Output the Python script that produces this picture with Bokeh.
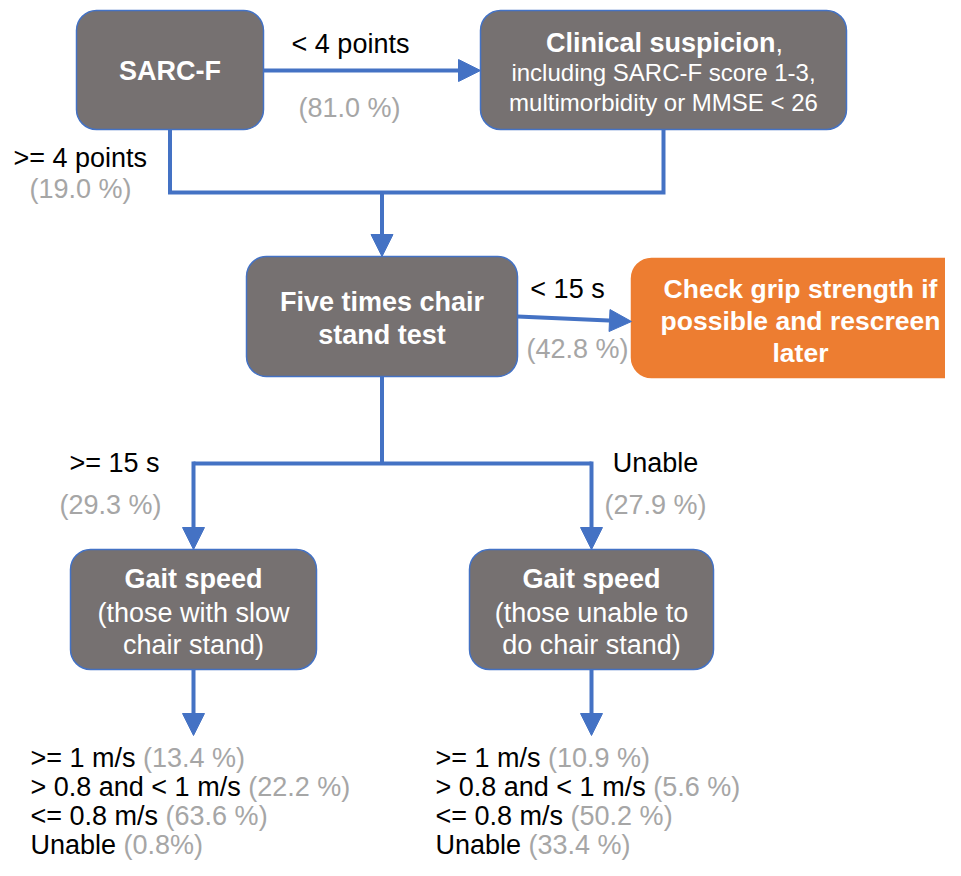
from bokeh.plotting import figure
from bokeh.models import Range1d, Arrow, NormalHead, ColumnDataSource
from bokeh.embed import file_html
from bokeh.resources import INLINE
from bokeh.core.properties import value

# ---------------- data ----------------
sarcf_split = ["< 4 points", ">= 4 points"]
sarcf_pct = [81.0, 19.0]
chair_split = ["< 15 s", ">= 15 s", "Unable"]
chair_pct = [42.8, 29.3, 27.9]
gait_cats = [">= 1 m/s", "> 0.8 and < 1 m/s", "<= 0.8 m/s", "Unable"]
gait_slow_pct = [13.4, 22.2, 63.6, 0.8]
gait_unable_pct = [10.9, 5.6, 50.2, 33.4]

# ---------------- style ----------------
BLUE = "#4472C4"
GREY_BOX = "#767171"
ORANGE = "#ED7D31"
PCT = "#A6A6A6"
FONT = value("Liberation Sans")
FS = "27px"

def pct(v, space=True):
    return f"({v:.1f} %)" if space else f"({v:.1f}%)"

# Arial / Liberation Sans advance widths (1/1000 em)
AW = {' ': 278, '%': 889, '(': 333, ')': 333, ',': 278, '-': 333, '.': 278, '/': 278,
      '<': 584, '=': 584, '>': 584, 'U': 722, 'a': 556, 'b': 556, 'd': 556, 'e': 556,
      'l': 222, 'm': 833, 'n': 556, 's': 500}
def text_w(s, px=27):
    return sum(AW.get(c, 556) for c in s) / 1000 * px

W, H = 945, 860
p = figure(width=W, height=H, x_range=Range1d(0, W), y_range=Range1d(H, 0),
           output_backend="svg", toolbar_location=None, min_border=0,
           x_axis_type=None, y_axis_type=None)
p.grid.visible = False
p.outline_line_color = None

# ---------------- nodes (layout) ----------------
nodes = {
    "sarcf":    dict(l=76,  r=263, t=10,  b=129, fill=GREY_BOX),
    "clinical": dict(l=480, r=846, t=10,  b=129, fill=GREY_BOX),
    "chair":    dict(l=246, r=517, t=256, b=376, fill=GREY_BOX),
    "grip":     dict(l=631, r=975, t=258, b=377, fill=ORANGE),
    "gait1":    dict(l=70,  r=316, t=549, b=669, fill=GREY_BOX),
    "gait2":    dict(l=469, r=713, t=549, b=669, fill=GREY_BOX),
}
def cx(n): return (nodes[n]["l"] + nodes[n]["r"]) / 2

src = ColumnDataSource(dict(
    l=[n["l"] for n in nodes.values()], r=[n["r"] for n in nodes.values()],
    t=[n["t"] for n in nodes.values()], b=[n["b"] for n in nodes.values()],
    fill=[n["fill"] for n in nodes.values()],
    lc=[BLUE if n["fill"] == GREY_BOX else ORANGE for n in nodes.values()]))
p.quad(left="l", right="r", top="t", bottom="b", fill_color="fill", line_color="lc",
       line_width=1.5, border_radius=20, source=src)

# ---------------- connectors ----------------
LW = 4
merge_y = 192
p.line([cx("sarcf"), cx("sarcf"), cx("clinical"), cx("clinical")],
       [nodes["sarcf"]["b"], merge_y, merge_y, nodes["clinical"]["b"]],
       line_color=BLUE, line_width=LW, line_join="miter")
split_y = 463
p.line([cx("chair"), cx("chair")], [nodes["chair"]["b"], split_y],
       line_color=BLUE, line_width=LW)
p.line([cx("gait1"), cx("gait2")], [split_y, split_y], line_color=BLUE, line_width=LW)

list_y0 = 735
arrows = [
    (nodes["sarcf"]["r"], 70, nodes["clinical"]["l"], 70),
    (cx("chair"), merge_y, cx("chair"), nodes["chair"]["t"]),
    (nodes["chair"]["r"], 316, nodes["grip"]["l"], 321),
    (cx("gait1"), split_y - 2, cx("gait1"), nodes["gait1"]["t"]),
    (cx("gait2"), split_y - 2, cx("gait2"), nodes["gait2"]["t"]),
    (cx("gait1"), nodes["gait1"]["b"], cx("gait1"), list_y0),
    (cx("gait2"), nodes["gait2"]["b"], cx("gait2"), list_y0),
]
for x0, y0, x1, y1 in arrows:
    p.add_layout(Arrow(end=NormalHead(size=22, fill_color=BLUE, line_color=BLUE, line_width=1),
                       x_start=x0, y_start=y0, x_end=x1, y_end=y1,
                       line_color=BLUE, line_width=LW))

# ---------------- texts ----------------
def txt(x, y, s, color="black", bold=False, align="center", size=FS):
    p.text(x=[x], y=[y], text=[s], text_font=FONT, text_font_size=size,
           text_font_style="bold" if bold else "normal", text_color=color,
           text_align=align, text_baseline="middle")

# node texts
txt(cx("sarcf"), 70, "SARC-F", "white", True)
txt(775, 42, "Clinical suspicion", "white", True, "right")
txt(775, 42, ",", "white", False, "left")
txt(cx("clinical"), 72, "including SARC-F score 1-3,", "white", size="24px")
txt(cx("clinical"), 102, "multimorbidity or MMSE < 26", "white", size="24px")
txt(cx("chair"), 301, "Five times chair", "white", True)
txt(cx("chair"), 334, "stand test", "white", True)
for yy, s in zip([288, 320, 352], ["Check grip strength if", "possible and rescreen", "later"]):
    txt(800, yy, s, "white", True, size="26.5px")
for n, lines in [("gait1", ["(those with slow", "chair stand)"]),
                 ("gait2", ["(those unable to", "do chair stand)"])]:
    txt(cx(n), 578, "Gait speed", "white", True)
    txt(cx(n), 612, lines[0], "white")
    txt(cx(n), 644, lines[1], "white")

# branch labels
txt(350, 43, sarcf_split[0])
txt(349, 107, pct(sarcf_pct[0]), PCT)
txt(13, 157, sarcf_split[1], align="left")
txt(80, 188, pct(sarcf_pct[1]), PCT)
txt(567, 288, chair_split[0])
txt(577, 348, pct(chair_pct[0]), PCT)
txt(114, 462, chair_split[1])
txt(110, 504, pct(chair_pct[1]), PCT)
txt(655, 462, chair_split[2])
txt(655, 504, pct(chair_pct[2]), PCT)

# outcome lists
list_ys = [757, 786, 815, 844]
for x0, vals, sp in [(30, gait_slow_pct, [True, True, True, False]),
                     (435, gait_unable_pct, [True, True, True, True])]:
    for cat, v, s, yy in zip(gait_cats, vals, sp, list_ys):
        head = cat + " "
        txt(x0, yy, head, align="left")
        txt(x0 + text_w(head), yy, pct(v, s), PCT, align="left")

open("out.html", "w").write(file_html(p, INLINE))
